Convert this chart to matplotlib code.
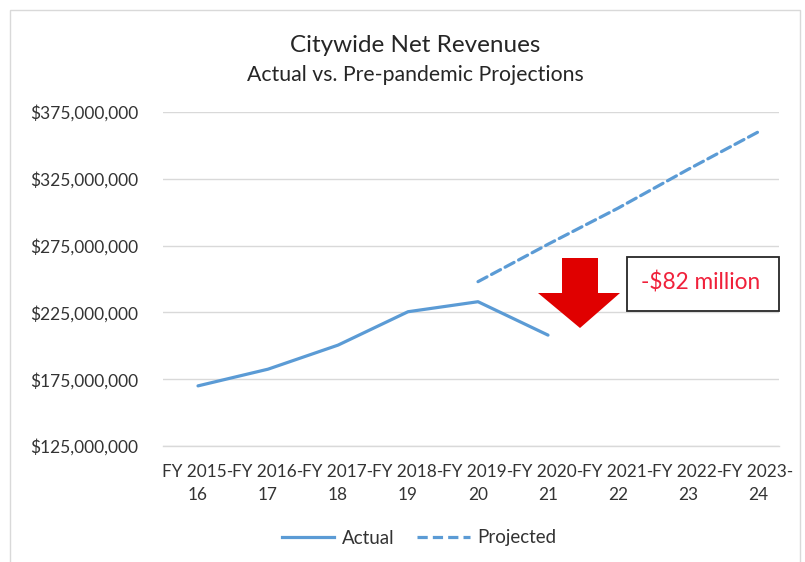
import matplotlib
matplotlib.use("Agg")
import matplotlib.pyplot as plt
from matplotlib.patches import Polygon, Rectangle
from matplotlib.ticker import FuncFormatter
from matplotlib.lines import Line2D

plt.rcParams['font.family'] = ['Lato', 'DejaVu Sans']

categories = ["FY 2015-\n16", "FY 2016-\n17", "FY 2017-\n18", "FY 2018-\n19",
              "FY 2019-\n20", "FY 2020-\n21", "FY 2021-\n22", "FY 2022-\n23",
              "FY 2023-\n24"]
actual = [170_000_000, 182_500_000, 200_500_000, 225_500_000, 233_000_000,
          208_000_000]
projected_start = 4
projected = [248_000_000, 276_000_000, 303_000_000, 332_000_000, 360_000_000]
yticks = [125_000_000, 175_000_000, 225_000_000, 275_000_000, 325_000_000,
          375_000_000]

W, H = 805, 562
fig = plt.figure(figsize=(W / 100, H / 100), dpi=100)
fig.patch.set_facecolor("white")


def fx(x):
    return x / W


def fy(y):
    return 1 - y / H


text_col = "#333333"

# chart frame
fig.patches.append(Rectangle((fx(10), fy(575)), fx(790), (575 - 10) / H,
                             transform=fig.transFigure, fill=False,
                             edgecolor="#D9D9D9", linewidth=1.0))

ax_left, ax_right, ax_top, ax_bot = 163, 779, 112, 446
ax = fig.add_axes([fx(ax_left), fy(ax_bot), (ax_right - ax_left) / W,
                   (ax_bot - ax_top) / H])
ax.set_facecolor("none")

blue = "#5B9BD5"
x_act = list(range(len(actual)))
x_proj = list(range(projected_start, projected_start + len(projected)))
ax.plot(x_act, actual, color=blue, linewidth=2.3, solid_capstyle="round",
        solid_joinstyle="round")
ax.plot(x_proj, projected, color=blue, linewidth=2.3, linestyle=(0, (3.2, 1.6)),
        dash_capstyle="round")

ax.set_xlim(-0.5, 8.3)
ax.set_ylim(yticks[0], yticks[-1])
ax.set_yticks(yticks)
ax.yaxis.set_major_formatter(FuncFormatter(lambda v, p: f"${v:,.0f}"))
ax.set_xticks(range(len(categories)))
ax.set_xticklabels(categories, linespacing=1.55)
ax.tick_params(axis="y", length=0, labelsize=12.5, colors=text_col, pad=18)
ax.tick_params(axis="x", length=0, labelsize=12.4, colors=text_col, pad=13)
ax.grid(axis="y", color="#D9D9D9", linewidth=1.0)
ax.set_axisbelow(True)
for s in ["top", "right", "left"]:
    ax.spines[s].set_visible(False)
ax.spines["bottom"].set_color("#D9D9D9")
ax.spines["bottom"].set_linewidth(1.0)

# titles
fig.text(fx(415), fy(45), "Citywide Net Revenues", ha="center", va="center",
         fontsize=17.5, color="#262626")
fig.text(fx(415), fy(75), "Actual vs. Pre-pandemic Projections", ha="center",
         va="center", fontsize=15.3, color="#262626")

# red drop arrow
arrow_px = [(562, 258), (598, 258), (598, 293), (620, 293), (580, 328),
            (538, 293), (562, 293)]
fig.patches.append(Polygon([(fx(x), fy(y)) for x, y in arrow_px], closed=True,
                           transform=fig.transFigure, facecolor="#E00000",
                           edgecolor="none", zorder=5))

# annotation box
fig.patches.append(Rectangle((fx(627), fy(311)), (779 - 627) / W, (311 - 257) / H,
                             transform=fig.transFigure, facecolor="white",
                             edgecolor="#262626", linewidth=1.3, zorder=5))
fig.text(fx(701), fy(283), "-$82 million", ha="center", va="center",
         fontsize=16.3, color="#F0203A", zorder=6)

# legend
handles = [Line2D([], [], color=blue, linewidth=2.3),
           Line2D([], [], color=blue, linewidth=2.3, linestyle=(0, (3.2, 1.6)))]
fig.legend(handles, ["Actual", "Projected"], loc="center",
           bbox_to_anchor=(fx(419), fy(538)), ncol=2, frameon=False,
           fontsize=13.5, handlelength=2.8, handletextpad=0.4,
           columnspacing=1.2, labelcolor=text_col)

fig.savefig("out.png", dpi=100, facecolor="white")
